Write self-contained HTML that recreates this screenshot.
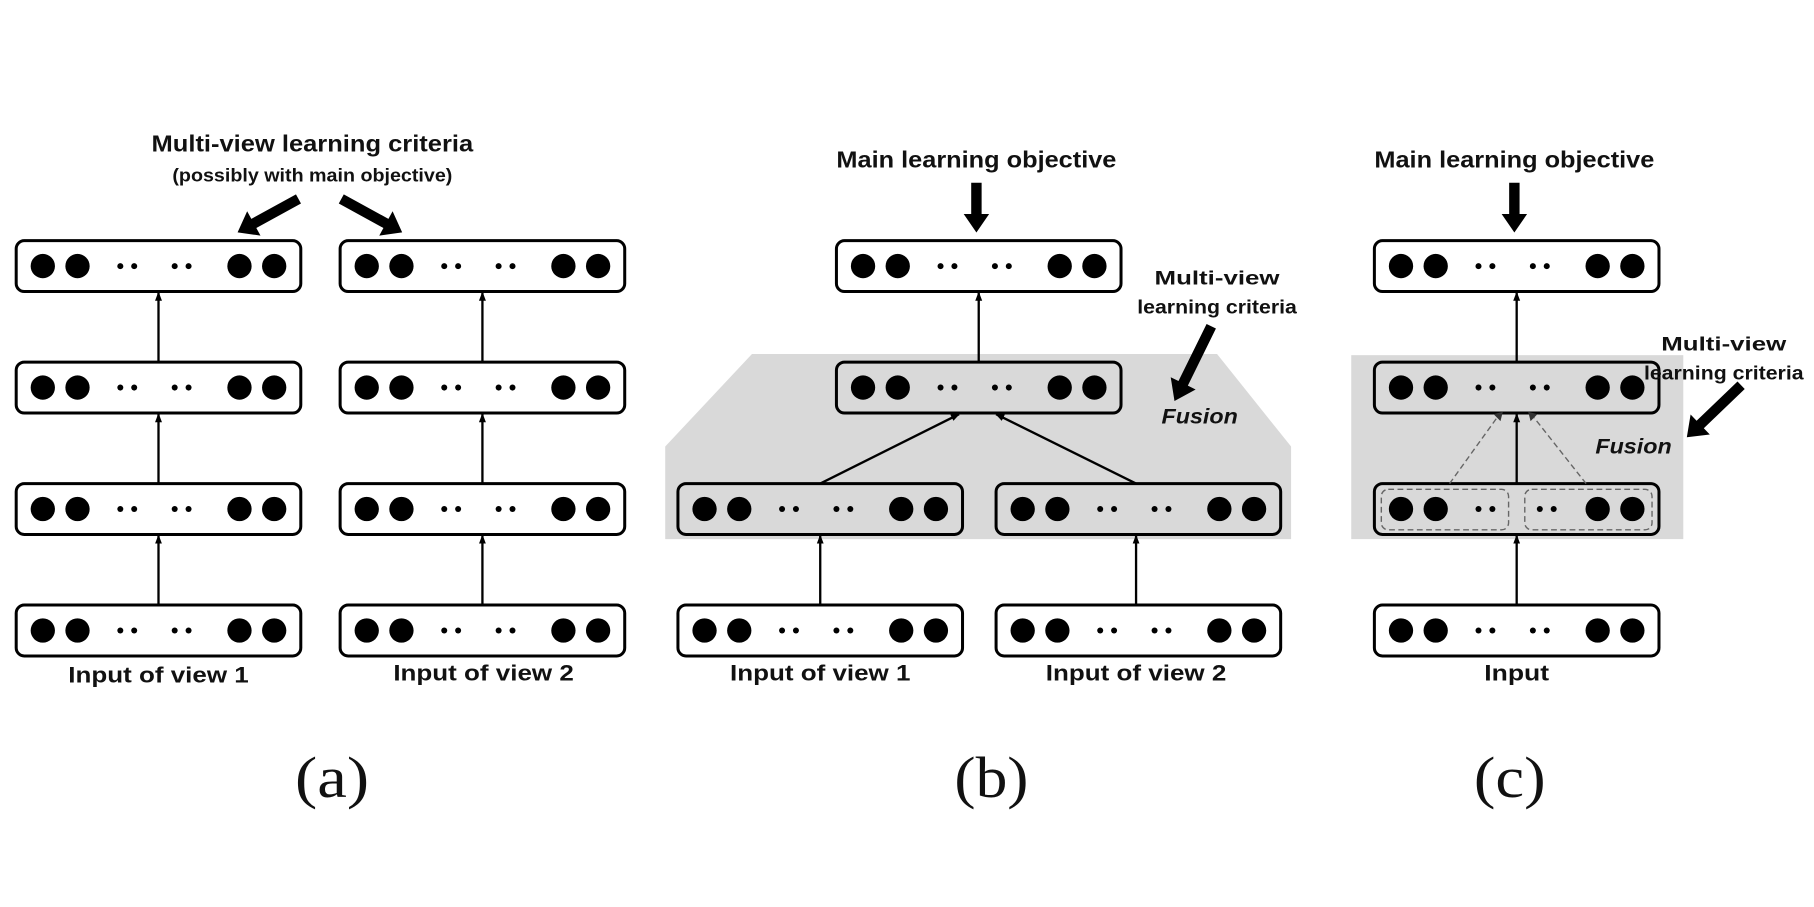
<!DOCTYPE html>
<html><head><meta charset="utf-8"><style>
html,body{margin:0;padding:0;background:#fff;}
svg{display:block;}
text{font-family:"Liberation Sans",sans-serif;font-weight:bold;fill:#111;}
</style></head><body>
<svg width="1814" height="907" viewBox="0 0 1568 784" xmlns="http://www.w3.org/2000/svg">
<defs>
<marker id="ah" markerWidth="8" markerHeight="8" refX="7" refY="4" orient="auto" markerUnits="userSpaceOnUse"><path d="M0,1 L8,4 L0,7 Z" fill="#000"/></marker>
<g id="layer">
<rect x="0" y="0" width="246" height="44" rx="7" fill="none" stroke="#000" stroke-width="2.6"/>
<circle cx="23" cy="22" r="10.5"/><circle cx="53" cy="22" r="10.5"/>
<circle cx="90" cy="22" r="2.6"/><circle cx="102" cy="22" r="2.6"/>
<circle cx="137" cy="22" r="2.6"/><circle cx="149" cy="22" r="2.6"/>
<circle cx="193" cy="22" r="10.5"/><circle cx="223" cy="22" r="10.5"/>
</g>
</defs>
<rect width="1568" height="784" fill="#fff"/>

<!-- Panel (a) -->
<text x="270" y="131" font-size="20" text-anchor="middle" textLength="278" lengthAdjust="spacingAndGlyphs">Multi-view learning criteria</text>
<text x="270" y="157" font-size="16" text-anchor="middle" textLength="242" lengthAdjust="spacingAndGlyphs">(possibly with main objective)</text>
<polygon transform="translate(258,172) rotate(151.3)" points="0,-4.5 44,-4.5 44,-12 60,0 44,12 44,4.5 0,4.5" fill="#000"/>
<polygon transform="translate(295,172) rotate(28.7)" points="0,-4.5 44,-4.5 44,-12 60,0 44,12 44,4.5 0,4.5" fill="#000"/>

<use href="#layer" x="14" y="208"/>
<use href="#layer" x="14" y="313"/>
<use href="#layer" x="14" y="418"/>
<use href="#layer" x="14" y="523"/>
<use href="#layer" x="294" y="208"/>
<use href="#layer" x="294" y="313"/>
<use href="#layer" x="294" y="418"/>
<use href="#layer" x="294" y="523"/>
<g stroke="#000" stroke-width="2" marker-end="url(#ah)">
<line x1="137" y1="313" x2="137" y2="253"/>
<line x1="137" y1="418" x2="137" y2="358"/>
<line x1="137" y1="523" x2="137" y2="463"/>
<line x1="417" y1="313" x2="417" y2="253"/>
<line x1="417" y1="418" x2="417" y2="358"/>
<line x1="417" y1="523" x2="417" y2="463"/>
</g>
<text x="137" y="590" font-size="19" text-anchor="middle" textLength="156" lengthAdjust="spacingAndGlyphs">Input of view 1</text>
<text x="418" y="588" font-size="19" text-anchor="middle" textLength="156" lengthAdjust="spacingAndGlyphs">Input of view 2</text>
<text x="287" y="689" font-size="50" text-anchor="middle" style="font-family:'Liberation Serif',serif;font-weight:normal" textLength="64" lengthAdjust="spacingAndGlyphs">(a)</text>

<!-- Panel (b) -->
<polygon points="650,306 1052,306 1116,386 1116,466 575,466 575,386" fill="#d9d9d9"/>
<text x="844" y="145" font-size="20" text-anchor="middle" textLength="242" lengthAdjust="spacingAndGlyphs">Main learning objective</text>
<polygon transform="translate(844,158) rotate(90)" points="0,-4.5 27,-4.5 27,-11 43,0 27,11 27,4.5 0,4.5" fill="#000"/>
<use href="#layer" x="723" y="208"/>
<use href="#layer" x="723" y="313"/>
<use href="#layer" x="586" y="418"/>
<use href="#layer" x="861" y="418"/>
<use href="#layer" x="586" y="523"/>
<use href="#layer" x="861" y="523"/>
<g stroke="#000" stroke-width="2" marker-end="url(#ah)">
<line x1="846" y1="313" x2="846" y2="253"/>
<line x1="709" y1="418" x2="829" y2="358"/>
<line x1="982" y1="418" x2="861" y2="358"/>
<line x1="709" y1="523" x2="709" y2="463"/>
<line x1="982" y1="523" x2="982" y2="463"/>
</g>
<text x="1052" y="246" font-size="17" text-anchor="middle" textLength="108" lengthAdjust="spacingAndGlyphs">Multi-view</text>
<text x="1052" y="271" font-size="17" text-anchor="middle" textLength="138" lengthAdjust="spacingAndGlyphs">learning criteria</text>
<polygon transform="translate(1047,282) rotate(116.2)" points="0,-4.5 55,-4.5 55,-12 72,0 55,12 55,4.5 0,4.5" fill="#000"/>
<text x="1037" y="366" font-size="18" text-anchor="middle" font-style="italic" textLength="66" lengthAdjust="spacingAndGlyphs">Fusion</text>
<text x="709" y="588" font-size="19" text-anchor="middle" textLength="156" lengthAdjust="spacingAndGlyphs">Input of view 1</text>
<text x="982" y="588" font-size="19" text-anchor="middle" textLength="156" lengthAdjust="spacingAndGlyphs">Input of view 2</text>
<text x="857" y="689" font-size="50" text-anchor="middle" style="font-family:'Liberation Serif',serif;font-weight:normal" textLength="64" lengthAdjust="spacingAndGlyphs">(b)</text>

<!-- Panel (c) -->
<rect x="1168" y="307" width="287" height="159" fill="#d9d9d9"/>
<text x="1309" y="145" font-size="20" text-anchor="middle" textLength="242" lengthAdjust="spacingAndGlyphs">Main learning objective</text>
<polygon transform="translate(1309,158) rotate(90)" points="0,-4.5 27,-4.5 27,-11 43,0 27,11 27,4.5 0,4.5" fill="#000"/>
<use href="#layer" x="1188" y="208"/>
<use href="#layer" x="1188" y="313"/>
<use href="#layer" x="1188" y="523"/>
<rect x="1188" y="418" width="246" height="44" rx="7" fill="none" stroke="#000" stroke-width="2.6"/>
<circle cx="1211" cy="440" r="10.5"/><circle cx="1241" cy="440" r="10.5"/>
<circle cx="1278" cy="440" r="2.6"/><circle cx="1290" cy="440" r="2.6"/>
<circle cx="1331" cy="440" r="2.6"/><circle cx="1343" cy="440" r="2.6"/>
<circle cx="1381" cy="440" r="10.5"/><circle cx="1411" cy="440" r="10.5"/>
<g fill="none" stroke="#666" stroke-width="1.2" stroke-dasharray="5,3">
<rect x="1194" y="423" width="110" height="35" rx="6"/>
<rect x="1318" y="423" width="110" height="35" rx="6"/>
<line x1="1253" y1="418" x2="1294" y2="361"/>
<line x1="1371" y1="418" x2="1326" y2="361"/>
</g>
<polygon points="1291,358 1299,356 1297,364" fill="#333"/>
<polygon points="1329,358 1321,356 1323,364" fill="#333"/>
<g stroke="#000" stroke-width="2" marker-end="url(#ah)">
<line x1="1311" y1="313" x2="1311" y2="253"/>
<line x1="1311" y1="418" x2="1311" y2="358"/>
<line x1="1311" y1="523" x2="1311" y2="463"/>
</g>
<text x="1490" y="303" font-size="17" text-anchor="middle" textLength="108" lengthAdjust="spacingAndGlyphs">Multi-view</text>
<text x="1490" y="328" font-size="17" text-anchor="middle" textLength="138" lengthAdjust="spacingAndGlyphs">learning criteria</text>
<polygon transform="translate(1505,333) rotate(136.2)" points="0,-4.5 49,-4.5 49,-12 65,0 49,12 49,4.5 0,4.5" fill="#000"/>
<text x="1412" y="392" font-size="18" text-anchor="middle" font-style="italic" textLength="66" lengthAdjust="spacingAndGlyphs">Fusion</text>
<text x="1311" y="588" font-size="19" text-anchor="middle" textLength="56" lengthAdjust="spacingAndGlyphs">Input</text>
<text x="1305" y="689" font-size="50" text-anchor="middle" style="font-family:'Liberation Serif',serif;font-weight:normal" textLength="62" lengthAdjust="spacingAndGlyphs">(c)</text>
</svg>
</body></html>
